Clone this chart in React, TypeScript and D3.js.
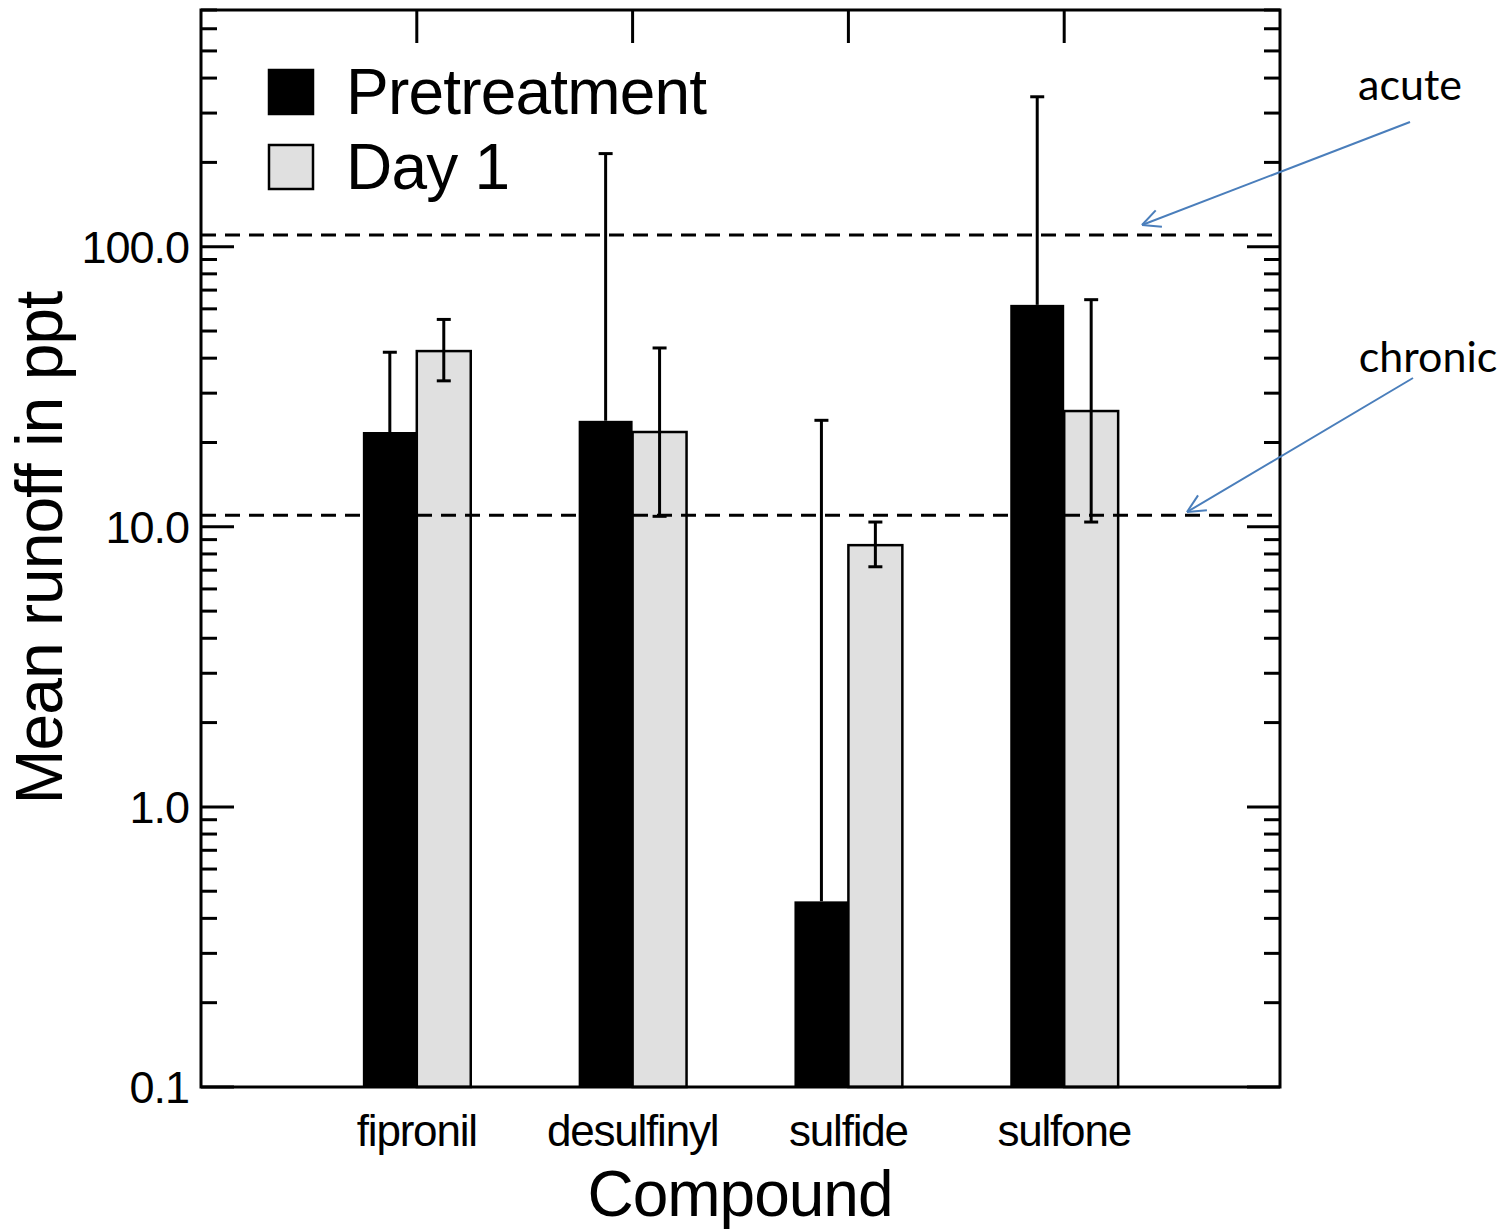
import * as d3 from "d3";
import { useEffect, useRef } from "react";

const categories = ["fipronil", "desulfinyl", "sulfide", "sulfone"];
const pretreatment = [21.8, 23.9, 0.46, 62];
const pretreatmentHigh = [42, 215, 24, 343];
const day1 = [42.4, 21.8, 8.6, 25.9];
const day1Low = [33.2, 10.9, 7.2, 10.4];
const day1High = [55, 43.5, 10.4, 64.7];
const yTickLabels = ["0.1", "1.0", "10.0", "100.0"];
const thresholds = [
  { name: "acute", value: 110 },
  { name: "chronic", value: 11 },
];

const W = 1505;
const H = 1230;
const left = 201;
const right = 1280;
const top = 10;
const bottom = 1087;

export default function App() {
  const ref = useRef<SVGSVGElement | null>(null);

  useEffect(() => {
    const svg = d3.select(ref.current);
    svg.selectAll("*").remove();

    const x = d3.scaleLinear().domain([0, categories.length + 1]).range([left, right]);
    const y = d3.scaleLog().domain([0.1, 700]).range([bottom, top]);
    const barW = 0.25;
    const font = "'Liberation Sans', Arial, sans-serif";

    // minor / major log ticks
    const majors = [0.1, 1, 10, 100];
    const minors: number[] = [];
    for (const m of [0.1, 1, 10, 100]) {
      for (let k = 2; k <= 9; k++) {
        const v = m * k;
        if (v <= 700) minors.push(v);
      }
    }

    const g = svg.append("g");

    // bars
    const pre = g.append("g");
    pre
      .selectAll("rect")
      .data(pretreatment)
      .enter()
      .append("rect")
      .attr("x", (_, i) => x(i + 1 - barW))
      .attr("width", (_, i) => x(i + 1) - x(i + 1 - barW))
      .attr("y", (d) => y(d))
      .attr("height", (d) => bottom - y(d))
      .attr("fill", "#000");

    const d1 = g.append("g");
    d1.selectAll("rect")
      .data(day1)
      .enter()
      .append("rect")
      .attr("x", (_, i) => x(i + 1))
      .attr("width", (_, i) => x(i + 1 + barW) - x(i + 1))
      .attr("y", (d) => y(d))
      .attr("height", (d) => bottom - y(d))
      .attr("fill", "#e0e0e0")
      .attr("stroke", "#000")
      .attr("stroke-width", 2.5);

    // error bars
    const cap = 7;
    const errs = g.append("g").attr("stroke", "#000").attr("stroke-width", 3);
    pretreatment.forEach((v, i) => {
      const cx = x(i + 1 - barW / 2);
      errs.append("line").attr("x1", cx).attr("x2", cx).attr("y1", y(v)).attr("y2", y(pretreatmentHigh[i]));
      errs.append("line").attr("x1", cx - cap).attr("x2", cx + cap).attr("y1", y(pretreatmentHigh[i])).attr("y2", y(pretreatmentHigh[i]));
    });
    day1.forEach((_, i) => {
      const cx = x(i + 1 + barW / 2);
      errs.append("line").attr("x1", cx).attr("x2", cx).attr("y1", y(day1Low[i])).attr("y2", y(day1High[i]));
      [day1Low[i], day1High[i]].forEach((e) => {
        errs.append("line").attr("x1", cx - cap).attr("x2", cx + cap).attr("y1", y(e)).attr("y2", y(e));
      });
    });

    // threshold lines
    g.selectAll("line.thr")
      .data(thresholds)
      .enter()
      .append("line")
      .attr("class", "thr")
      .attr("x1", left)
      .attr("x2", right)
      .attr("y1", (d) => y(d.value))
      .attr("y2", (d) => y(d.value))
      .attr("stroke", "#000")
      .attr("stroke-width", 3)
      .attr("stroke-dasharray", "15 9");

    // ticks
    const ticks = g.append("g").attr("stroke", "#000").attr("stroke-width", 3);
    majors.forEach((v) => {
      ticks.append("line").attr("x1", left).attr("x2", left + 33).attr("y1", y(v)).attr("y2", y(v));
      ticks.append("line").attr("x1", right).attr("x2", right - 33).attr("y1", y(v)).attr("y2", y(v));
    });
    minors.forEach((v) => {
      ticks.append("line").attr("x1", left).attr("x2", left + 16).attr("y1", y(v)).attr("y2", y(v));
      ticks.append("line").attr("x1", right).attr("x2", right - 16).attr("y1", y(v)).attr("y2", y(v));
    });
    categories.forEach((_, i) => {
      ticks.append("line").attr("x1", x(i + 1)).attr("x2", x(i + 1)).attr("y1", top).attr("y2", top + 33);
    });

    // frame
    g.append("rect")
      .attr("x", left)
      .attr("y", top)
      .attr("width", right - left)
      .attr("height", bottom - top)
      .attr("fill", "none")
      .attr("stroke", "#000")
      .attr("stroke-width", 3);

    // y tick labels
    g.selectAll("text.yt")
      .data(majors)
      .enter()
      .append("text")
      .attr("x", left - 12)
      .attr("y", (d) => y(d))
      .attr("dy", "0.36em")
      .attr("text-anchor", "end")
      .attr("font-family", font)
      .attr("font-size", 45)
      .attr("letter-spacing", -1)
      .text((_, i) => yTickLabels[i]);

    // x category labels
    g.selectAll("text.xt")
      .data(categories)
      .enter()
      .append("text")
      .attr("x", (_, i) => x(i + 1))
      .attr("y", 1146)
      .attr("text-anchor", "middle")
      .attr("font-family", font)
      .attr("font-size", 44)
      .attr("letter-spacing", -1.2)
      .text((d) => d);

    g.append("text")
      .attr("x", 740)
      .attr("y", 1216)
      .attr("text-anchor", "middle")
      .attr("font-family", font)
      .attr("font-size", 64)
      .attr("letter-spacing", -1)
      .text("Compound");

    g.append("text")
      .attr("transform", `translate(62, 548) rotate(-90)`)
      .attr("text-anchor", "middle")
      .attr("font-family", font)
      .attr("font-size", 66)
      .attr("letter-spacing", -1)
      .text("Mean runoff in ppt");

    // legend
    const legend = [
      { label: "Pretreatment", fill: "#000" },
      { label: "Day 1", fill: "#e0e0e0" },
    ];
    legend.forEach((l, i) => {
      const ly = 70 + i * 75;
      g.append("rect")
        .attr("x", 269)
        .attr("y", ly)
        .attr("width", 44)
        .attr("height", 44)
        .attr("fill", l.fill)
        .attr("stroke", "#000")
        .attr("stroke-width", 2.5);
      g.append("text")
        .attr("x", 346)
        .attr("y", ly + 44)
        .attr("font-family", font)
        .attr("font-size", 64)
        .attr("letter-spacing", -0.8)
        .text(l.label);
    });

    // annotations
    const blue = "#4a7ebb";
    const notes = [
      { text: "acute", tx: 1410, ty: 100, from: [1410, 122], to: [1142, 225] },
      { text: "chronic", tx: 1428, ty: 372, from: [1413, 378], to: [1187, 512] },
    ];
    notes.forEach((n) => {
      g.append("text")
        .attr("x", n.tx)
        .attr("y", n.ty)
        .attr("text-anchor", "middle")
        .attr("font-family", "Lato, 'Open Sans', sans-serif")
        .attr("font-size", 43)
        .attr("fill", "#000")
        .text(n.text);
      g.append("line")
        .attr("x1", n.from[0])
        .attr("y1", n.from[1])
        .attr("x2", n.to[0])
        .attr("y2", n.to[1])
        .attr("stroke", blue)
        .attr("stroke-width", 2);
      const ang = Math.atan2(n.from[1] - n.to[1], n.from[0] - n.to[0]);
      const len = 20;
      [-0.45, 0.45].forEach((da) => {
        g.append("line")
          .attr("x1", n.to[0])
          .attr("y1", n.to[1])
          .attr("x2", n.to[0] + len * Math.cos(ang + da))
          .attr("y2", n.to[1] + len * Math.sin(ang + da))
          .attr("stroke", blue)
          .attr("stroke-width", 2);
      });
    });
  }, []);

  return (
    <svg
      ref={ref}
      width={W}
      height={H}
      style={{ position: "absolute", left: 0, top: 0, background: "#fff" }}
    ></svg>
  );
}
